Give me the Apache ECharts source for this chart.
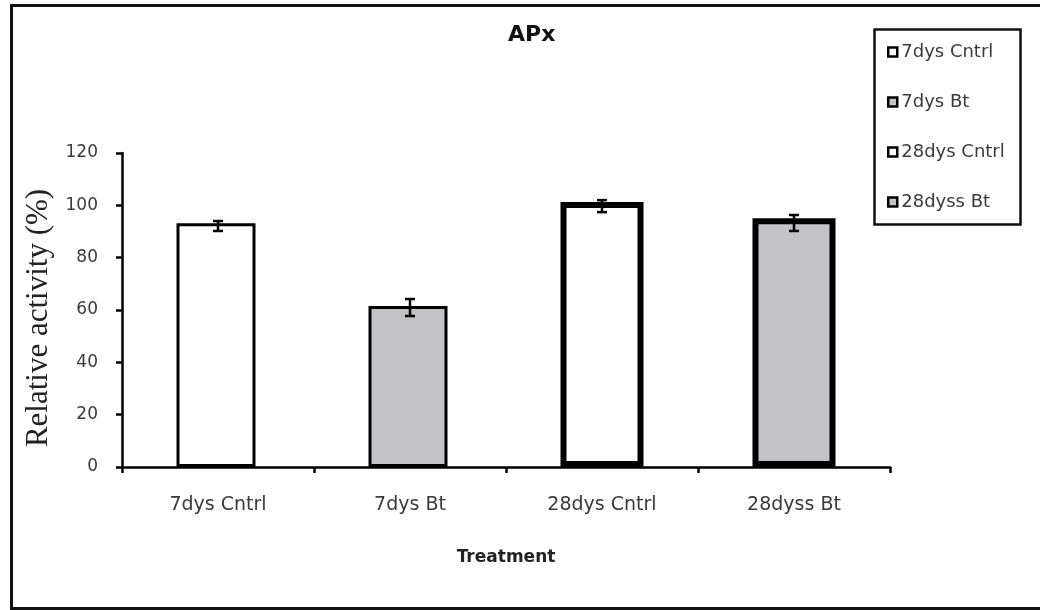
<!DOCTYPE html>
<html>
<head>
<meta charset="utf-8">
<script src="https://cdn.jsdelivr.net/npm/echarts@6/dist/echarts.min.js"></script>
<style>html,body{margin:0;padding:0;background:#fff;}#c{width:1040px;height:610px;}</style>
</head>
<body>
<div id="c"></div>
<script>
const categories = ['7dys Cntrl', '7dys Bt', '28dys Cntrl', '28dyss Bt'];
const seriesNames = ['7dys Cntrl', '7dys Bt', '28dys Cntrl', '28dyss Bt'];
const values = [93.2, 61.5, 101.3, 95.1];
const errLow = [90.2, 57.7, 97.4, 90.2];
const errHigh = [94.0, 64.2, 102.0, 96.3];
const yTicks = [0, 20, 40, 60, 80, 100, 120];

const fills = ['#ffffff', '#c3c2c4', '#ffffff', '#c3c2c4'];
const borders = [3, 3, 6, 6];
const widths = [79, 79, 83, 83];

const barSeries = seriesNames.map((name, i) => ({
  name: name,
  type: 'bar',
  barGap: '-100%',
  barWidth: widths[i],
  data: categories.map((c, j) => (j === i ? values[j] : '-')),
  itemStyle: { color: fills[i], borderColor: '#000', borderWidth: borders[i] },
  z: 2
}));

const errData = categories.map((c, j) => [j, errLow[j], errHigh[j]]);

const chart = echarts.init(document.getElementById('c'), null, { renderer: 'canvas' });
chart.setOption({
  backgroundColor: '#fff',
  animation: false,
  title: {
    text: 'APx',
    left: 508,
    top: 24,
    padding: 0,
    textStyle: { fontFamily: 'DejaVu Sans', fontWeight: 'bold', fontSize: 22, color: '#111' }
  },
  legend: {
    orient: 'vertical',
    left: 872,
    top: 27,
    padding: [16, 12, 12, 15],
    itemGap: 32,
    itemWidth: 9,
    itemHeight: 9,
    icon: 'rect',
    data: seriesNames.map((n, i) => ({
      name: n,
      itemStyle: { color: fills[i], borderColor: '#000', borderWidth: 2.5 }
    })),
    textStyle: { fontFamily: 'DejaVu Sans', fontSize: 18, color: '#3a3a3a', padding: [0, 0, 0, -1] }
  },
  graphic: [
    {
      type: 'rect', left: 9, top: 3, silent: true,
      shape: { width: 1040, height: 603 },
      style: { fill: 'none', stroke: '#111', lineWidth: 3 }
    },
    {
      type: 'rect', left: 872, top: 27, silent: true,
      shape: { width: 146, height: 195 },
      style: { fill: 'none', stroke: '#111', lineWidth: 2.5 }
    }
  ],
  grid: { left: 122, right: 150, top: 153, bottom: 143 },
  xAxis: {
    type: 'category',
    data: categories,
    name: 'Treatment',
    nameLocation: 'middle',
    nameGap: 82,
    nameTextStyle: { fontFamily: 'DejaVu Sans', fontWeight: 'bold', fontSize: 17, color: '#222' },
    axisLine: { lineStyle: { color: '#000', width: 2.5 } },
    axisTick: { show: true, alignWithLabel: false, length: 6, lineStyle: { color: '#000', width: 2.5 } },
    axisLabel: { margin: 29, interval: 0, fontFamily: 'DejaVu Sans', fontSize: 19, color: '#3a3a3a' },
    splitLine: { show: false }
  },
  yAxis: {
    type: 'value',
    min: yTicks[0],
    max: yTicks[yTicks.length - 1],
    interval: 20,
    name: 'Relative activity (%)',
    nameLocation: 'middle',
    nameGap: 62,
    nameTextStyle: { fontFamily: 'Liberation Serif', fontSize: 31, color: '#222', padding: [0, 16, 0, 0] },
    axisLine: { show: true, lineStyle: { color: '#000', width: 2.5 } },
    axisTick: { show: true, length: 6, lineStyle: { color: '#000', width: 2.5 } },
    axisLabel: { margin: 24, fontFamily: 'DejaVu Sans', fontSize: 17, color: '#3a3a3a' },
    splitLine: { show: false }
  },
  series: barSeries.concat([{
    type: 'custom',
    name: 'err',
    z: 5,
    renderItem: function (params, api) {
      const x = api.value(0);
      const lo = api.coord([x, api.value(1)]);
      const hi = api.coord([x, api.value(2)]);
      const hw = 5;
      const st = { stroke: '#000', lineWidth: 2.5 };
      return {
        type: 'group',
        children: [
          { type: 'line', shape: { x1: hi[0], y1: hi[1], x2: lo[0], y2: lo[1] }, style: st },
          { type: 'line', shape: { x1: hi[0] - hw, y1: hi[1], x2: hi[0] + hw, y2: hi[1] }, style: st },
          { type: 'line', shape: { x1: lo[0] - hw, y1: lo[1], x2: lo[0] + hw, y2: lo[1] }, style: st }
        ]
      };
    },
    data: errData
  }])
});
</script>
</body>
</html>
